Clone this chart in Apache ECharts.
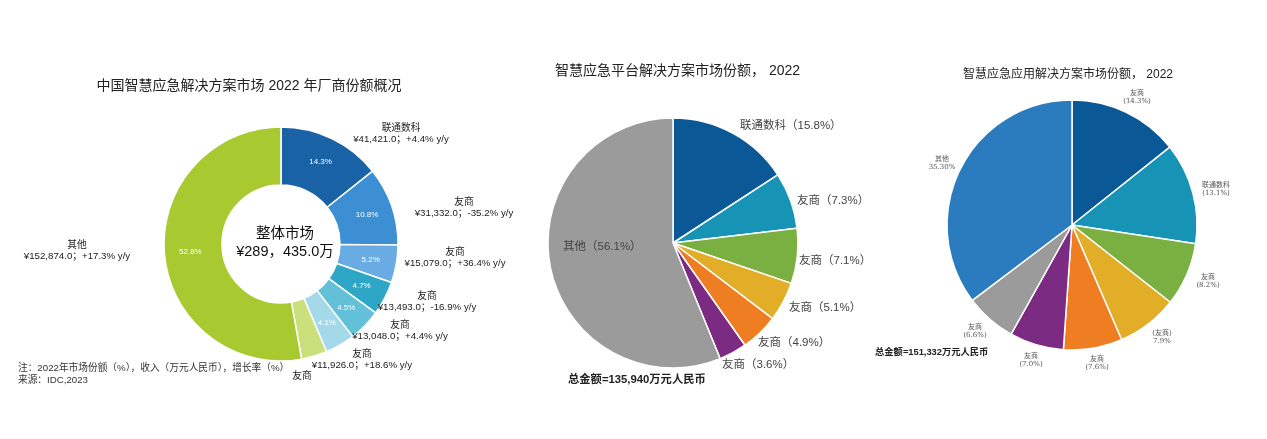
<!DOCTYPE html>
<html>
<head>
<meta charset="utf-8">
<script src="https://cdn.jsdelivr.net/npm/echarts@6/dist/echarts.min.js"></script>
<style>
  html, body { margin: 0; padding: 0; background: #fff; }
  #main { width: 1267px; height: 439px; }
</style>
</head>
<body>
<div id="main"></div>
<script>
// left donut: vendor revenue (万元) and growth
var vendorNames = ['联通数科', '友商', '友商', '友商', '友商', '友商', '友商', '其他'];
var vendorRevenue = [41421.0, 31332.0, 15079.0, 13493.0, 13048.0, 11926.0, 10262.0, 152874.0];
var vendorGrowth = ['+4.4%', '-35.2%', '+36.4%', '-16.9%', '+4.4%', '+18.6%', '', '+17.3%'];
var vendorColors = ['#1a62a6', '#3c8fd3', '#69ace3', '#2ea6c6', '#62c0d9', '#a4d9ea', '#c9e07d', '#a9c930'];

// middle pie: platform solutions (%)
var platformNames = ['联通数科', '友商', '友商', '友商', '友商', '友商', '其他'];
var platformShare = [15.8, 7.3, 7.1, 5.1, 4.9, 3.6, 56.1];
var platformColors = ['#0b5897', '#1793b6', '#7aaf41', '#e3ae27', '#ef7e23', '#7b2b81', '#9b9b9b'];

// right pie: application solutions (%)
var appNames = ['友商', '联通数科', '友商', '(友商)', '友商', '友商', '友商', '其他'];
var appShare = [14.3, 13.1, 8.2, 7.9, 7.6, 7.0, 6.6, 35.3];
var appColors = ['#0b5897', '#1793b6', '#7aaf41', '#e3ae27', '#ef7e23', '#7b2b81', '#9b9b9b', '#2a7cbf'];

// label anchors (layout only)
var vendorLabelPos = [[401, 134], [464, 208], [455, 258], [427, 302], [400, 331], [362, 360], [302, 376], [77, 251]];
var platformLabelPos = [[740, 126], [797, 201], [799, 261], [789, 308], [758, 343], [722, 365], [563, 247]];
var appLabelPos = [[1137, 97], [1216, 189], [1208, 281], [1162, 337], [1097, 363], [1031, 360], [975, 331], [942, 163]];

var FONT = '"Liberation Sans", "Noto Sans CJK SC", sans-serif';

function fmt(n) {
    return n.toFixed(1).replace(/\B(?=(\d{3})+(?!\d))/g, ',');
}

var vendorTotal = vendorRevenue.reduce(function (a, b) { return a + b; }, 0);

function mkData(names, vals, colors) {
    return vals.map(function (v, i) {
        return { name: names[i], value: v, itemStyle: { color: colors[i] } };
    });
}

var myChart = echarts.init(document.getElementById('main'));

var option = {
    backgroundColor: '#fff',
    textStyle: { fontFamily: FONT },
    title: [
        {
            text: '中国智慧应急解决方案市场 2022 年厂商份额概况',
            left: 244, top: 74, textAlign: 'center',
            textStyle: { fontSize: 14, fontWeight: 'normal', color: '#222', fontFamily: FONT }
        },
        {
            text: '智慧应急平台解决方案市场份额， 2022',
            left: 550, top: 59,
            textStyle: { fontSize: 14, fontWeight: 'normal', color: '#222', fontFamily: FONT }
        },
        {
            text: '智慧应急应用解决方案市场份额， 2022',
            left: 958, top: 64,
            textStyle: { fontSize: 12, fontWeight: 'normal', color: '#222', fontFamily: FONT }
        }
    ],
    graphic: [
        {
            type: 'text', x: 285, y: 243,
            style: {
                text: '整体市场\n¥' + fmt(vendorTotal).replace(',', '，') + '万',
                align: 'center', verticalAlign: 'middle',
                font: '14.5px ' + FONT, lineHeight: 18, fill: '#111'
            }
        },
        {
            type: 'text', x: 18, y: 362,
            style: {
                text: '注：2022年市场份额（%），收入（万元人民币），增长率（%）\n来源：IDC,2023',
                font: '9.7px ' + FONT, lineHeight: 12.5, fill: '#333'
            }
        },
        {
            type: 'text', x: 568, y: 380,
            style: {
                text: '总金额=135,940万元人民币',
                verticalAlign: 'middle',
                font: 'bold 11.3px ' + FONT, fill: '#222'
            }
        },
        {
            type: 'text', x: 875, y: 352,
            style: {
                text: '总金额=151,332万元人民币',
                verticalAlign: 'middle',
                font: 'bold 9.3px ' + FONT, fill: '#222'
            }
        }
    ],
    series: [
        {
            type: 'pie',
            center: [281, 244],
            radius: [59, 117],
            startAngle: 90,
            silent: true,
            itemStyle: { borderColor: '#fff', borderWidth: 1.5 },
            label: {
                show: true,
                position: 'inside',
                color: '#fff',
                fontSize: 8,
                formatter: function (p) {
                    return p.dataIndex === 6 ? '' : p.percent.toFixed(1) + '%';
                }
            },
            data: mkData(vendorNames, vendorRevenue, vendorColors)
        },
        {
            type: 'pie',
            center: [281, 244],
            radius: [59, 117],
            startAngle: 90,
            silent: true,
            itemStyle: { color: 'rgba(0,0,0,0)' },
            labelLine: { show: false },
            label: {
                show: true,
                position: 'outside',
                overflow: 'none',
                fontSize: 9.7,
                lineHeight: 11,
                color: '#1a1a1a',
                formatter: function (p) {
                    var i = p.dataIndex;
                    if (!vendorGrowth[i]) return p.name;
                    return p.name + '\n¥' + fmt(p.value) + '；' + vendorGrowth[i] + ' y/y';
                }
            },
            labelLayout: function (p) {
                var pos = vendorLabelPos[p.dataIndex];
                return { x: pos[0], y: pos[1], align: 'center', verticalAlign: 'middle' };
            },
            data: vendorNames.map(function (n, i) { return { name: n, value: vendorRevenue[i] }; })
        },
        {
            type: 'pie',
            center: [673, 243],
            radius: [0, 125],
            startAngle: 90,
            silent: true,
            itemStyle: { borderColor: '#fff', borderWidth: 1.5 },
            labelLine: { show: false },
            label: {
                show: true,
                position: 'outside',
                overflow: 'none',
                fontSize: 11.5,
                color: '#444',
                formatter: function (p) {
                    return p.name + '（' + p.value.toFixed(1) + '%）';
                }
            },
            labelLayout: function (p) {
                var pos = platformLabelPos[p.dataIndex];
                return { x: pos[0], y: pos[1], align: 'left', verticalAlign: 'middle' };
            },
            data: mkData(platformNames, platformShare, platformColors)
        },
        {
            type: 'pie',
            center: [1072, 225],
            radius: [0, 125],
            startAngle: 90,
            silent: true,
            itemStyle: { borderColor: '#fff', borderWidth: 1.5 },
            labelLine: { show: false },
            label: {
                show: true,
                position: 'outside',
                overflow: 'none',
                fontSize: 7,
                lineHeight: 8,
                color: '#555',
                fontFamily: '"DejaVu Serif", "Noto Sans CJK SC", serif',
                formatter: function (p) {
                    var pct;
                    if (p.name === '其他') pct = p.value.toFixed(2) + '%';
                    else if (p.name.charAt(0) === '(') pct = p.value.toFixed(1) + '%';
                    else pct = '(' + p.value.toFixed(1) + '%)';
                    return p.name + '\n' + pct;
                }
            },
            labelLayout: function (p) {
                var pos = appLabelPos[p.dataIndex];
                return { x: pos[0], y: pos[1], align: 'center', verticalAlign: 'middle' };
            },
            data: mkData(appNames, appShare, appColors)
        }
    ]
};

myChart.setOption(option);
</script>
</body>
</html>
